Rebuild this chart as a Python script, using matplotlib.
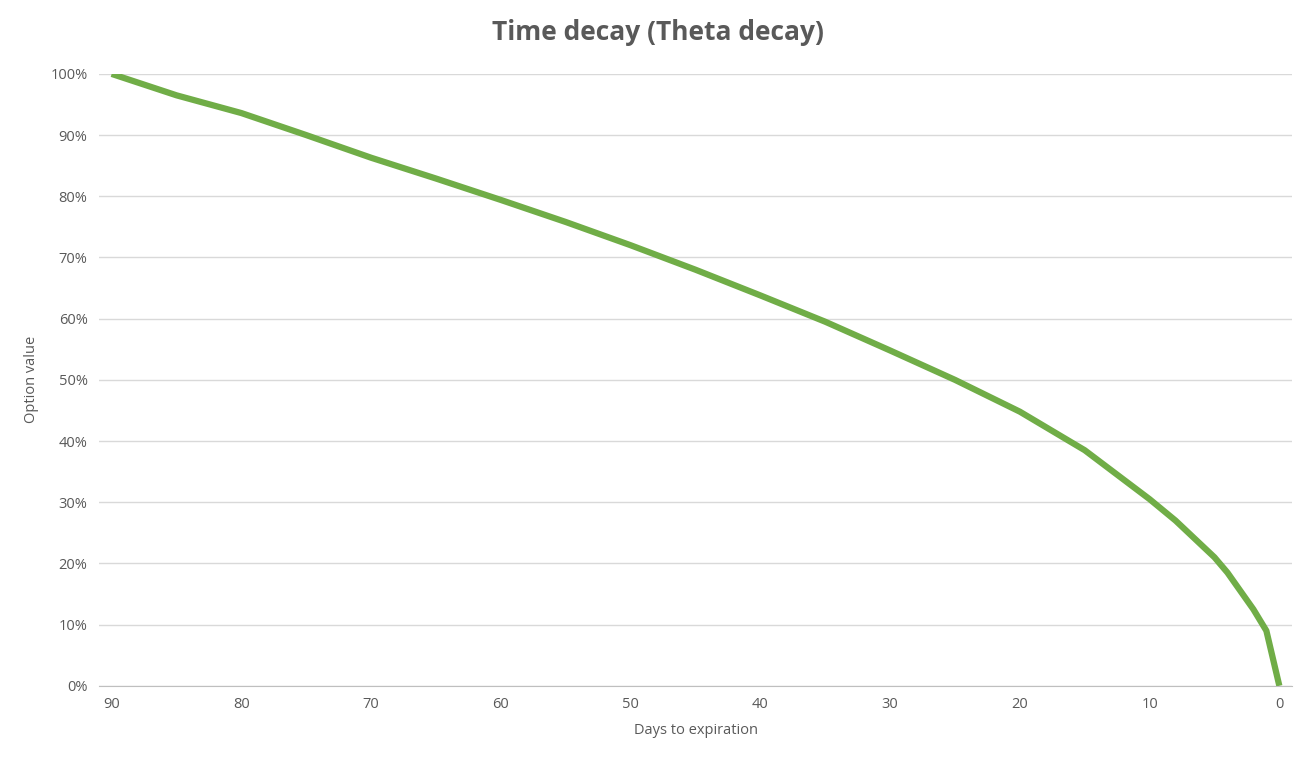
import matplotlib
matplotlib.use("Agg")
import matplotlib.pyplot as plt
from matplotlib.ticker import PercentFormatter

days = [90, 85, 80, 75, 70, 65, 60, 55, 50, 45, 40, 35, 30, 25, 20, 15, 10, 8, 6, 5, 4, 3, 2, 1, 0]
value = [100, 96.5, 93.6, 90, 86.3, 82.9, 79.4, 75.8, 72, 68, 63.8, 59.5, 54.8, 50, 44.8, 38.5, 30.5, 27, 23, 21, 18.5, 15.5, 12.5, 9, 0]

plt.rcParams['font.family'] = ['Open Sans', 'DejaVu Sans']
fig = plt.figure(figsize=(13.16, 7.62), dpi=100)
ax = fig.add_axes([0.075, 0.10, 0.907, 0.803])
ax.plot(days, value, color='#70AD47', lw=4.5, solid_capstyle='butt')
ax.set_xlim(91, -1)
ax.set_ylim(0, 100)
ax.set_xticks(range(90, -1, -10))
ax.set_yticks(range(0, 101, 10))
ax.yaxis.set_major_formatter(PercentFormatter(decimals=0))
ax.grid(axis='y', color='#D9D9D9', lw=1)
ax.set_axisbelow(True)
for s in ['top', 'right', 'left']:
    ax.spines[s].set_visible(False)
ax.spines['bottom'].set_color('#BFBFBF')
ax.tick_params(length=0, colors='#595959', labelsize=10.5, pad=8)
ax.set_xlabel('Days to expiration', color='#595959', fontsize=10.5, labelpad=8)
ax.set_ylabel('Option value', color='#595959', fontsize=10.5, labelpad=8)
fig.suptitle('Time decay (Theta decay)', color='#595959', fontsize=19, fontweight='bold', y=0.975)
fig.savefig('out.png', dpi=100)
